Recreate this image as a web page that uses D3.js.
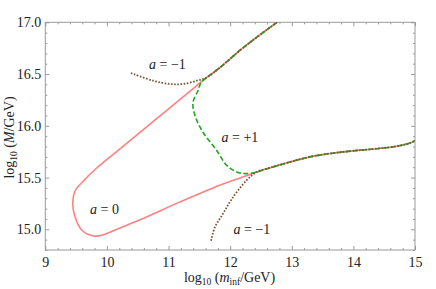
<!DOCTYPE html>
<html><head><meta charset="utf-8">
<script src="https://cdn.jsdelivr.net/npm/d3@7"></script>
<style>
html,body{margin:0;padding:0;background:#fff;}
svg text{font-family:"Liberation Serif","Times New Roman",serif;}
</style></head>
<body><svg id="c" width="436" height="289"></svg>
<script>
// ---- data (log10 m_inf, log10 M) ----
const xDomain = [9, 15];
const yDomain = [14.8, 17.0];
const xMajor = [9, 10, 11, 12, 13, 14, 15];
const yMajor = [15.0, 15.5, 16.0, 16.5, 17.0];
const yMajorLabels = ["15.0", "15.5", "16.0", "16.5", "17.0"];
// shared upper branch (from top edge down to the upper junction)
const upperBranch = [[12.76,17.0],[12.208,16.753],[11.835,16.563],[11.62,16.467]];
// shared lower branch (from lower junction to right edge)
const lowerBranch = [[12.431,15.554],[12.647,15.594],[12.971,15.650],[13.296,15.700],[13.620,15.732],[13.994,15.758],[14.383,15.779],[14.708,15.803],[14.919,15.834],[15.0,15.856]];
// a = 0 loop (between the junctions)
const pinkLoop = [[11.30,16.310],[10.748,16.040],[10.212,15.777],[9.834,15.592],[9.591,15.450],[9.482,15.370],[9.445,15.253],[9.482,15.121],[9.591,14.993],[9.779,14.936],[9.936,14.946],[10.212,15.013],[10.537,15.092],[11.186,15.265],[11.722,15.400],[12.160,15.496]];
// a = +1 bend
const greenBend = [[11.526,16.416],[11.478,16.339],[11.397,16.227],[11.429,16.099],[11.559,15.938],[11.781,15.762],[11.944,15.618],[12.106,15.554],[12.268,15.538]];
// a = -1 tails
const brownUpperTail = [[10.39,16.51],[10.748,16.436],[11.024,16.404],[11.235,16.404],[11.462,16.436]];
const brownLowerTail = [[11.69,14.89],[11.754,15.022],[11.884,15.150],[12.023,15.290],[12.268,15.474]];
const curveLabels = [
  {t:"\u22121", x:149, y:68.5},
  {t:"+1", x:221.5, y:141.5},
  {t:"0", x:90, y:214},
  {t:"\u22121", x:233.5, y:233.5}
];

const pinkSeries = upperBranch.concat(pinkLoop, lowerBranch);
const greenSeries = upperBranch.concat(greenBend, lowerBranch);
const brownUpper = brownUpperTail.concat(upperBranch.slice().reverse());
const brownLower = brownLowerTail.concat(lowerBranch);

// ---- layout ----
const L = 45.3, R = 415, T = 22.3, B = 250;
const svg = d3.select("#c");
const x = d3.scaleLinear().domain(xDomain).range([L, R]);
const y = d3.scaleLinear().domain(yDomain).range([B, T]);

const frameCol = "#9a9a9a";
function styleAxis(g){
  g.select(".domain").remove();
  g.selectAll(".tick line").attr("stroke", frameCol).attr("stroke-width", 1);
  g.selectAll(".tick text").attr("fill", "#222").attr("font-size", "14px")
    .attr("font-family", '"Liberation Serif","Times New Roman",serif');
}
const xMinor = d3.range(90, 151, 2).map(v => v/10).filter(v => !xMajor.includes(v));
const yMinor = d3.range(148, 171, 1).map(v => v/10).filter(v => !yMajor.some(m => Math.abs(m-v)<1e-9));

// bottom
svg.append("g").attr("transform",`translate(0,${B})`)
  .call(d3.axisBottom(x).tickValues(xMajor).tickSize(-4).tickPadding(7).tickFormat(d3.format("d"))).call(styleAxis);
svg.append("g").attr("transform",`translate(0,${B})`)
  .call(d3.axisBottom(x).tickValues(xMinor).tickSize(-2).tickFormat("")).call(styleAxis);
// top
svg.append("g").attr("transform",`translate(0,${T})`)
  .call(d3.axisTop(x).tickValues(xMajor).tickSize(-4).tickFormat("")).call(styleAxis);
svg.append("g").attr("transform",`translate(0,${T})`)
  .call(d3.axisTop(x).tickValues(xMinor).tickSize(-2).tickFormat("")).call(styleAxis);
// left
svg.append("g").attr("transform",`translate(${L},0)`)
  .call(d3.axisLeft(y).tickValues(yMajor).tickSize(-4).tickPadding(4).tickFormat((d,i)=>yMajorLabels[i])).call(styleAxis);
svg.append("g").attr("transform",`translate(${L},0)`)
  .call(d3.axisLeft(y).tickValues(yMinor).tickSize(-2).tickFormat("")).call(styleAxis);
// right
svg.append("g").attr("transform",`translate(${R},0)`)
  .call(d3.axisRight(y).tickValues(yMajor).tickSize(-4).tickFormat("")).call(styleAxis);
svg.append("g").attr("transform",`translate(${R},0)`)
  .call(d3.axisRight(y).tickValues(yMinor).tickSize(-2).tickFormat("")).call(styleAxis);

svg.append("rect").attr("x",L).attr("y",T).attr("width",R-L).attr("height",B-T)
  .attr("fill","none").attr("stroke",frameCol).attr("stroke-width",1);

// ---- curves ----
svg.append("clipPath").attr("id","clp").append("rect")
  .attr("x",L).attr("y",T).attr("width",R-L).attr("height",B-T);
const line = d3.line().x(d=>x(d[0])).y(d=>y(d[1])).curve(d3.curveCatmullRom.alpha(0.5));
const gc = svg.append("g").attr("clip-path","url(#clp)");
gc.append("path").datum(pinkSeries).attr("d",line).attr("fill","none")
  .attr("stroke","#ff8080").attr("stroke-width",1.6);
gc.append("path").datum(greenSeries).attr("d",line).attr("fill","none")
  .attr("stroke","#1ea81e").attr("stroke-width",1.6).attr("stroke-dasharray","5,2.5");
[brownUpper, brownLower].forEach(s=>{
  gc.append("path").datum(s).attr("d",line).attr("fill","none")
    .attr("stroke","#7a5530").attr("stroke-width",1.8).attr("stroke-dasharray","1.6,1.6");
});

// ---- curve labels ----
curveLabels.forEach(c=>{
  const t = svg.append("text").attr("x",c.x).attr("y",c.y).attr("font-size","14px").attr("fill","#222");
  t.append("tspan").attr("font-style","italic").text("a");
  t.append("tspan").text(" = " + c.t);
});

// ---- axis titles ----
const xt = svg.append("text").attr("x",229.5).attr("y",281.5).attr("text-anchor","middle")
  .attr("font-size","14px").attr("fill","#222");
xt.append("tspan").text("log");
xt.append("tspan").attr("font-size","9.5px").attr("dy",3).text("10");
xt.append("tspan").attr("dy",-3).text(" (");
xt.append("tspan").attr("font-style","italic").text("m");
xt.append("tspan").attr("font-size","9.5px").attr("dy",3).text("inf");
xt.append("tspan").attr("dy",-3).text("/GeV)");

const yt = svg.append("text").attr("transform","translate(13.5,137.5) rotate(-90)").attr("text-anchor","middle")
  .attr("font-size","14px").attr("fill","#222");
yt.append("tspan").text("log");
yt.append("tspan").attr("font-size","9.5px").attr("dy",3).text("10");
yt.append("tspan").attr("dy",-3).text(" (");
yt.append("tspan").attr("font-style","italic").text("M");
yt.append("tspan").text("/GeV)");
</script>
</body></html>
